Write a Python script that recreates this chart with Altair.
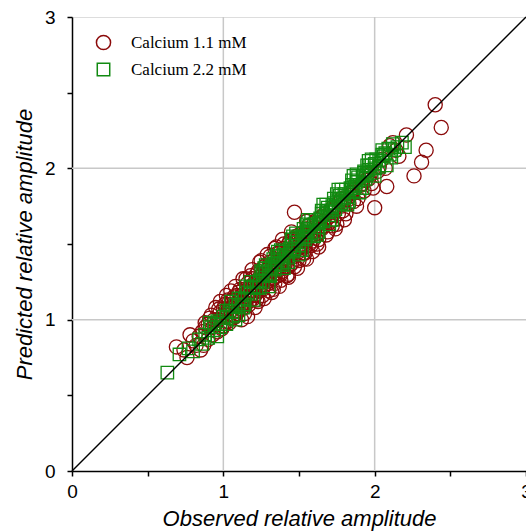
import altair as alt
import pandas as pd

# Calcium 1.1 mM (observed, predicted)
ca11_obs = [0.69, 0.76, 0.78, 0.74, 0.82, 0.85, 0.86, 0.88, 0.90, 0.92, 0.93, 0.95, 0.96, 0.97, 0.98,
            1.00, 1.01, 1.02, 1.03, 1.04, 1.05, 1.06, 1.07, 1.08, 1.09, 1.10, 1.11, 1.12, 1.13, 1.14,
            1.15, 1.16, 1.17, 1.18, 1.19, 1.20, 1.21, 1.22, 1.23, 1.24, 1.25, 1.26, 1.27, 1.28, 1.29,
            1.30, 1.31, 1.32, 1.33, 1.34, 1.35, 1.36, 1.37, 1.38, 1.39, 1.40, 1.41, 1.42, 1.43, 1.44,
            1.45, 1.47, 1.46, 1.48, 1.49, 1.50, 1.52, 1.53, 1.55, 1.56, 1.58, 1.60, 1.62, 1.63, 1.65,
            1.67, 1.69, 1.71, 1.73, 1.75, 1.77, 1.79, 1.81, 1.84, 1.86, 1.88, 1.91, 1.93, 1.96, 1.99,
            2.00, 2.02, 2.05, 2.08, 2.10, 2.12, 2.16, 2.21, 2.26, 2.31, 2.34, 2.40, 2.44,
            0.90, 0.94, 0.99, 1.00, 1.03, 1.06, 1.08, 1.10, 1.12, 1.14, 1.16, 1.18, 1.20, 1.22, 1.24,
            1.26, 1.28, 1.30, 1.32, 1.34, 1.36, 1.38, 1.40, 1.42, 1.44, 1.46, 1.48, 1.50, 1.52, 1.54,
            1.57, 1.59, 1.61, 1.64, 1.66, 1.70, 1.74, 1.78, 1.82, 1.87, 1.92, 1.97, 1.25, 1.15, 1.05,
            1.35, 0.98, 1.45, 1.55, 1.33, 1.43, 1.23, 1.53, 1.62, 1.72, 1.12,
            0.88, 0.91, 0.93, 0.95, 0.97, 0.99, 1.01, 1.03, 1.04, 1.06, 1.07, 1.09, 1.10, 1.11, 1.13,
            1.14, 1.15, 1.17, 1.18, 1.19, 1.21, 1.22, 1.23, 1.25, 1.26, 1.27, 1.29, 1.30, 1.31, 1.33,
            1.34, 1.36, 1.37, 1.38, 1.40, 1.41, 1.42, 1.44, 1.45, 1.47, 1.48, 1.50, 1.51, 1.53, 1.54,
            1.56, 1.57, 1.59, 1.60, 1.62, 1.63, 1.65, 1.67, 1.68, 1.70, 1.72, 1.74, 1.76, 1.78, 1.80,
            1.83, 1.85, 1.89, 1.94, 1.98, 2.03, 2.07, 2.14, 1.02, 1.08, 1.13, 1.19, 1.24, 1.29, 1.34,
            1.39, 1.16, 1.21, 1.27, 1.32, 1.37, 1.43, 1.49, 1.55, 0.84, 0.87, 0.80, 1.20, 1.25, 1.30,
            1.35, 1.40, 1.46, 1.51, 1.58]
ca11_pred = [0.82, 0.75, 0.90, 0.80, 0.83, 0.80, 0.92, 0.98, 0.87, 1.03, 0.95, 1.08, 0.92, 1.00, 1.05,
             0.96, 1.10, 1.03, 0.99, 1.12, 1.06, 1.01, 1.15, 1.09, 1.04, 1.18, 1.12, 1.07, 1.20, 1.15,
             1.10, 1.24, 1.18, 1.13, 1.27, 1.21, 1.16, 1.30, 1.24, 1.19, 1.33, 1.27, 1.22, 1.36, 1.30,
             1.24, 1.38, 1.33, 1.27, 1.40, 1.36, 1.29, 1.44, 1.38, 1.32, 1.47, 1.41, 1.35, 1.50, 1.44,
             1.37, 1.71, 1.53, 1.46, 1.40, 1.56, 1.50, 1.44, 1.60, 1.53, 1.49, 1.64, 1.57, 1.53, 1.68,
             1.62, 1.58, 1.72, 1.66, 1.63, 1.78, 1.72, 1.70, 1.82, 1.78, 1.75, 1.89, 1.85, 1.93, 1.87,
             1.74, 1.98, 2.06, 1.88, 2.15, 2.17, 2.08, 2.22, 1.95, 2.04, 2.12, 2.42, 2.27,
             0.97, 1.00, 1.02, 1.07, 1.06, 1.13, 1.02, 1.10, 1.16, 1.08, 1.14, 1.22, 1.14, 1.22, 1.28,
             1.20, 1.28, 1.34, 1.26, 1.33, 1.40, 1.30, 1.38, 1.45, 1.36, 1.44, 1.52, 1.45, 1.55, 1.48,
             1.57, 1.52, 1.61, 1.60, 1.65, 1.68, 1.74, 1.76, 1.79, 1.86, 1.90, 1.96, 1.39, 1.27, 1.19,
             1.48, 1.12, 1.58, 1.65, 1.20, 1.30, 1.12, 1.40, 1.50, 1.62, 1.00,
             0.95, 1.01, 0.90, 0.97, 1.07, 0.94, 1.05, 1.13, 0.98, 1.09, 1.03, 1.16, 1.06, 1.20, 1.11,
             1.04, 1.19, 1.10, 1.29, 1.16, 1.25, 1.13, 1.32, 1.23, 1.16, 1.35, 1.25, 1.19, 1.42, 1.36,
             1.24, 1.44, 1.33, 1.26, 1.50, 1.37, 1.29, 1.52, 1.41, 1.35, 1.55, 1.39, 1.48, 1.58, 1.44,
             1.62, 1.50, 1.45, 1.58, 1.66, 1.48, 1.60, 1.70, 1.56, 1.64, 1.74, 1.60, 1.70, 1.80, 1.66,
             1.77, 1.84, 1.80, 1.92, 1.90, 2.01, 2.00, 2.12, 1.16, 1.22, 1.27, 1.33, 1.38, 1.43, 1.47,
             1.53, 1.02, 1.08, 1.14, 1.18, 1.22, 1.28, 1.34, 1.40, 0.89, 0.83, 0.86, 1.19, 1.25, 1.30,
             1.34, 1.41, 1.46, 1.52, 1.56]

# Calcium 2.2 mM (observed, predicted)
ca22_obs = [0.63, 0.71, 0.77, 0.80, 0.84, 0.88, 0.90, 0.92, 0.94, 0.96, 0.98, 1.00, 1.02, 1.04, 1.06,
            1.08, 1.10, 1.12, 1.14, 1.16, 1.18, 1.20, 1.22, 1.24, 1.26, 1.28, 1.30, 1.32, 1.34, 1.36,
            1.38, 1.40, 1.42, 1.44, 1.46, 1.48, 1.50, 1.52, 1.54, 1.56, 1.58, 1.60, 1.62, 1.64, 1.66,
            1.68, 1.70, 1.72, 1.74, 1.76, 1.78, 1.80, 1.82, 1.84, 1.86, 1.88, 1.90, 1.92, 1.94, 1.96,
            1.98, 2.00, 2.03, 2.06, 2.10, 2.13, 2.15,
            1.05, 1.10, 1.15, 1.20, 1.25, 1.30, 1.35, 1.40, 1.45, 1.50, 1.55, 1.60, 1.65, 1.70, 1.75,
            1.80, 1.85, 1.90, 1.95, 2.00, 2.05, 2.08, 2.20, 2.18, 1.33, 1.43, 1.53, 1.63, 1.73, 1.83,
            1.93, 0.91, 0.96, 0.86, 1.02, 1.08, 1.13, 1.18, 1.28, 1.38, 1.48, 1.58, 1.68, 1.78, 1.88,
            1.98,
            1.22, 1.26, 1.30, 1.34, 1.37, 1.41, 1.45, 1.49, 1.53, 1.57, 1.61, 1.65, 1.69, 1.73, 1.77,
            1.81, 1.85, 1.89, 1.93, 1.97, 2.01, 2.05, 2.09, 2.12, 1.24, 1.31, 1.39, 1.47, 1.55, 1.63,
            1.71, 1.79, 1.87, 1.95, 2.03, 2.11, 1.27, 1.36, 1.46, 1.56, 1.66, 1.76, 1.86, 1.96, 1.10,
            1.14, 1.18, 1.06, 1.02, 0.98, 0.94, 1.52, 1.62, 1.72, 1.82, 1.92, 2.00, 2.07]
ca22_pred = [0.65, 0.77, 0.81, 0.79, 0.87, 0.90, 0.88, 0.95, 0.93, 0.99, 0.97, 1.02, 1.01, 1.06, 1.05,
             1.10, 1.09, 1.14, 1.13, 1.18, 1.17, 1.22, 1.21, 1.26, 1.25, 1.30, 1.29, 1.35, 1.33, 1.39,
             1.37, 1.43, 1.41, 1.47, 1.45, 1.51, 1.49, 1.55, 1.53, 1.59, 1.57, 1.63, 1.61, 1.67, 1.65,
             1.71, 1.69, 1.75, 1.73, 1.79, 1.77, 1.83, 1.81, 1.87, 1.85, 1.91, 1.89, 1.95, 1.93, 1.99,
             1.97, 2.03, 2.05, 2.08, 2.09, 2.12, 2.14,
             1.12, 1.03, 1.22, 1.13, 1.32, 1.22, 1.42, 1.34, 1.53, 1.43, 1.63, 1.55, 1.72, 1.63, 1.83,
             1.76, 1.92, 1.84, 2.02, 1.95, 2.12, 2.02, 2.14, 2.17, 1.40, 1.38, 1.60, 1.58, 1.80, 1.78,
             1.98, 0.98, 0.89, 0.84, 0.97, 1.00, 1.08, 1.25, 1.36, 1.46, 1.57, 1.66, 1.76, 1.86, 1.96,
             2.06,
             1.25, 1.31, 1.34, 1.37, 1.42, 1.45, 1.49, 1.54, 1.57, 1.62, 1.66, 1.70, 1.74, 1.77, 1.82,
             1.86, 1.89, 1.94, 1.97, 2.02, 2.06, 2.09, 2.13, 2.16, 1.21, 1.29, 1.36, 1.47, 1.55, 1.64,
             1.72, 1.80, 1.88, 1.96, 2.01, 2.07, 1.34, 1.45, 1.55, 1.66, 1.76, 1.86, 1.95, 2.05, 1.14,
             1.10, 1.21, 1.02, 1.06, 0.95, 0.97, 1.46, 1.56, 1.66, 1.76, 1.87, 2.00, 2.10]

series_names = ["Calcium 1.1 mM", "Calcium 2.2 mM"]
series_colors = ["#8B0A0A", "#118A11"]
series_shapes = ["circle", "square"]

grid_values = [1, 2]
tick_values = [0, 0.5, 1, 1.5, 2, 2.5, 3]
diag = [0, 3]

df = pd.concat([
    pd.DataFrame({"obs": ca11_obs, "pred": ca11_pred, "series": series_names[0]}),
    pd.DataFrame({"obs": ca22_obs, "pred": ca22_pred, "series": series_names[1]}),
], ignore_index=True)
df["order"] = range(len(df))

xscale = alt.Scale(domain=[0, 3], nice=False, zero=False)
yscale = alt.Scale(domain=[0, 3], nice=False, zero=False)

label_expr = "datum.value % 1 === 0 ? format(datum.value, 'd') : ''"

xaxis = alt.Axis(values=tick_values, labelExpr=label_expr, grid=False, tickSize=5,
                 tickColor="black", domainColor="black", domainWidth=1.5, tickWidth=1.5,
                 labelFont="Liberation Sans", labelFontSize=19, labelColor="black",
                 labelPadding=6, labelFlush=False,
                 title="Observed relative amplitude", titleFont="Liberation Sans",
                 titleFontSize=22, titleFontStyle="italic", titleFontWeight="normal",
                 titleColor="black", titleBaseline="alphabetic", titleY=54)
yaxis = alt.Axis(values=tick_values, labelExpr=label_expr, grid=False, tickSize=5,
                 tickColor="black", domainColor="black", domainWidth=1.5, tickWidth=1.5,
                 labelFont="Liberation Sans", labelFontSize=19, labelColor="black",
                 labelPadding=12, labelFlush=False,
                 title="Predicted relative amplitude", titleFont="Liberation Sans",
                 titleFontSize=22, titleFontStyle="italic", titleFontWeight="normal",
                 titleColor="black", titleX=-48, titleBaseline="middle")

gx = alt.Chart(pd.DataFrame({"g": grid_values})).mark_rule(color="#c8c8c8", strokeWidth=1.5).encode(
    x=alt.X("g:Q", scale=xscale, axis=xaxis))
gy = alt.Chart(pd.DataFrame({"g": grid_values})).mark_rule(color="#c8c8c8", strokeWidth=1.5).encode(
    y=alt.Y("g:Q", scale=yscale, axis=yaxis))

pts = alt.Chart(df).mark_point(filled=False, strokeWidth=1.3, opacity=1).encode(
    x=alt.X("obs:Q", scale=xscale, axis=xaxis),
    y=alt.Y("pred:Q", scale=yscale, axis=yaxis),
    color=alt.Color("series:N", scale=alt.Scale(domain=series_names, range=series_colors),
                    legend=alt.Legend(orient="none", legendX=23, legendY=17, title=None,
                                      labelFont="Liberation Serif", labelFontSize=17,
                                      labelColor="black", labelOffset=19, rowPadding=7,
                                      symbolSize=210, symbolStrokeWidth=1.5,
                                      symbolFillColor="transparent")),
    shape=alt.Shape("series:N", scale=alt.Scale(domain=series_names, range=series_shapes)),
    size=alt.Size("series:N", scale=alt.Scale(domain=series_names, range=[200, 155]), legend=None),
    order=alt.Order("order:Q"),
)

line = alt.Chart(pd.DataFrame({"x": diag, "y": diag})).mark_line(color="black", strokeWidth=1.5).encode(
    x=alt.X("x:Q", scale=xscale, axis=xaxis),
    y=alt.Y("y:Q", scale=yscale, axis=yaxis))

chart = alt.layer(gx, gy, pts, line).properties(
    width=454, height=454,
    autosize=alt.AutoSizeParams(type="none"),
    padding={"left": 72, "top": 17, "right": 0, "bottom": 60},
).configure_view(stroke="black", strokeWidth=1.5).configure(background="white")

chart.save("out.html", embed_options={"renderer": "svg", "actions": False})
